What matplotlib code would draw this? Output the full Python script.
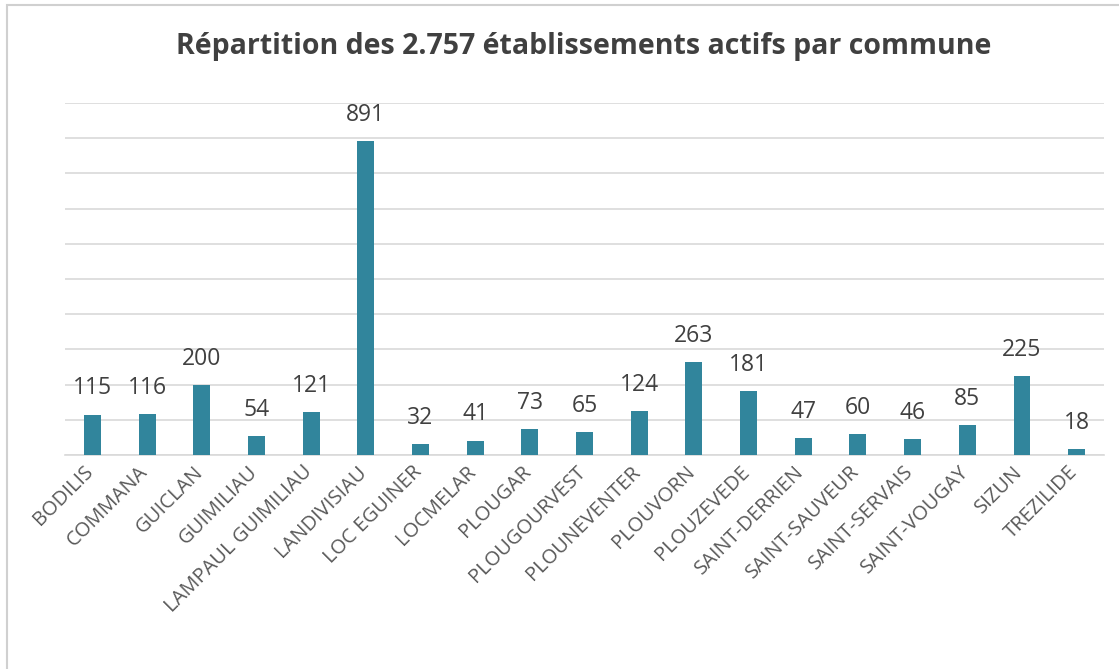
import matplotlib.pyplot as plt
import matplotlib.transforms as mtransforms
from matplotlib.patches import Rectangle

communes = ["BODILIS", "COMMANA", "GUICLAN", "GUIMILIAU", "LAMPAUL GUIMILIAU",
            "LANDIVISIAU", "LOC EGUINER", "LOCMELAR", "PLOUGAR", "PLOUGOURVEST",
            "PLOUNEVENTER", "PLOUVORN", "PLOUZEVEDE", "SAINT-DERRIEN",
            "SAINT-SAUVEUR", "SAINT-SERVAIS", "SAINT-VOUGAY", "SIZUN", "TREZILIDE"]
etablissements = [115, 116, 200, 54, 121, 891, 32, 41, 73, 65, 124, 263, 181,
                  47, 60, 46, 85, 225, 18]

plt.rcParams['font.family'] = ['Open Sans', 'DejaVu Sans']

fig = plt.figure(figsize=(11.19, 6.69), dpi=100)
ax = fig.add_axes([0.0581, 0.3199, 0.9285, 0.5262])

x = range(len(communes))
bars = ax.bar(x, etablissements, width=0.31, color='#31859C', zorder=3)

for xi, v in zip(x, etablissements):
    ax.text(xi, v + 40, str(v), ha='center', va='bottom', fontsize=16.5,
            color='#404040')

ax.set_xlim(-0.5, len(communes) - 0.5)
ax.set_ylim(0, 1000)
ax.set_yticks(range(0, 1001, 100))
ax.yaxis.grid(True, color='#D9D9D9', linewidth=1.2, zorder=0)
ax.tick_params(axis='y', left=False, labelleft=False)
ax.tick_params(axis='x', length=0, pad=5)
ax.set_xticks(list(x))
ax.set_xticklabels(communes, rotation=45, ha='right', rotation_mode='anchor',
                   fontsize=14.5, color='#595959')
shift = mtransforms.ScaledTranslation(-0.09, 0, fig.dpi_scale_trans)
for lab in ax.get_xticklabels():
    lab.set_transform(lab.get_transform() + shift)
for s in ['top', 'right', 'left']:
    ax.spines[s].set_visible(False)
ax.spines['bottom'].set_color('#D9D9D9')
ax.spines['bottom'].set_linewidth(1.2)

fig.text(0.522, 0.93, "Répartition des 2.757 établissements actifs par commune",
         ha='center', va='center', fontsize=20.5, fontweight='bold', color='#404040')

fig.patches.append(Rectangle((0.006, -0.01), 1.0, 1.003, transform=fig.transFigure,
                             fill=False, edgecolor='#D0D0D0', linewidth=1.5))

fig.savefig('out.png', dpi=100)
